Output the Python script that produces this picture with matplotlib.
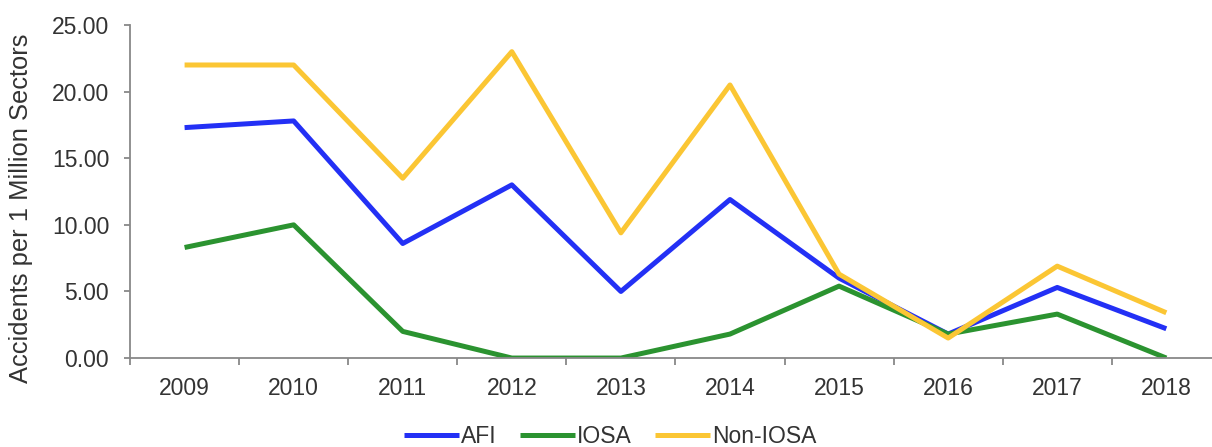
import numpy as np
import matplotlib.pyplot as plt
from matplotlib.ticker import FixedLocator, FormatStrFormatter

plt.rcParams['font.family'] = ['Liberation Sans', 'DejaVu Sans']

years = ['2009', '2010', '2011', '2012', '2013', '2014', '2015', '2016', '2017', '2018']
afi = [17.3, 17.8, 8.6, 13.0, 5.0, 11.9, 6.0, 1.8, 5.3, 2.2]
iosa = [8.3, 10.0, 2.0, 0.0, 0.0, 1.8, 5.4, 1.8, 3.3, 0.0]
non_iosa = [22.0, 22.0, 13.5, 23.0, 9.4, 20.5, 6.3, 1.5, 6.9, 3.4]

fig = plt.figure(figsize=(12.12, 4.47), dpi=100)
ax = fig.add_axes([0.1073, 0.199, 0.900, 0.745])

x = np.arange(len(years))
ax.plot(x, afi, color='#2330f5', lw=3.6, label='AFI', solid_capstyle='butt')
ax.plot(x, iosa, color='#2b9330', lw=3.6, label='IOSA', solid_capstyle='butt')
ax.plot(x, non_iosa, color='#fbc634', lw=3.6, label='Non-IOSA', solid_capstyle='butt')

ax.set_xlim(-0.5, len(years) - 0.5)
ax.set_ylim(0, 25)
ax.set_xticks(x)
ax.set_xticklabels(years)
ax.xaxis.set_minor_locator(FixedLocator(np.arange(-0.5, len(years), 1)))
ax.tick_params(axis='x', which='major', length=0, pad=14, labelsize=16.5, colors='#333333')
ax.tick_params(axis='x', which='minor', length=5, width=1.3, color='#888888', direction='out')
ax.set_yticks(np.arange(0, 26, 5))
ax.yaxis.set_major_formatter(FormatStrFormatter('%.2f'))
ax.tick_params(axis='y', length=4, width=1.3, color='#888888', labelsize=16.5, labelcolor='#333333', pad=11)

for s in ['top', 'right']:
    ax.spines[s].set_visible(False)
for s in ['left', 'bottom']:
    ax.spines[s].set_color('#888888')
    ax.spines[s].set_linewidth(1.3)

ax.set_ylabel('Accidents per 1 Million Sectors', fontsize=18.4, color='#333333')
ax.yaxis.set_label_coords(-0.089, 0.45)

ax.legend(loc='center', bbox_to_anchor=(0.44, -0.236), ncol=3, frameon=False,
          fontsize=16.5, handlelength=2.4, handletextpad=0.1, columnspacing=1.0,
          labelcolor='#333333')

fig.savefig('out.png', dpi=100)
